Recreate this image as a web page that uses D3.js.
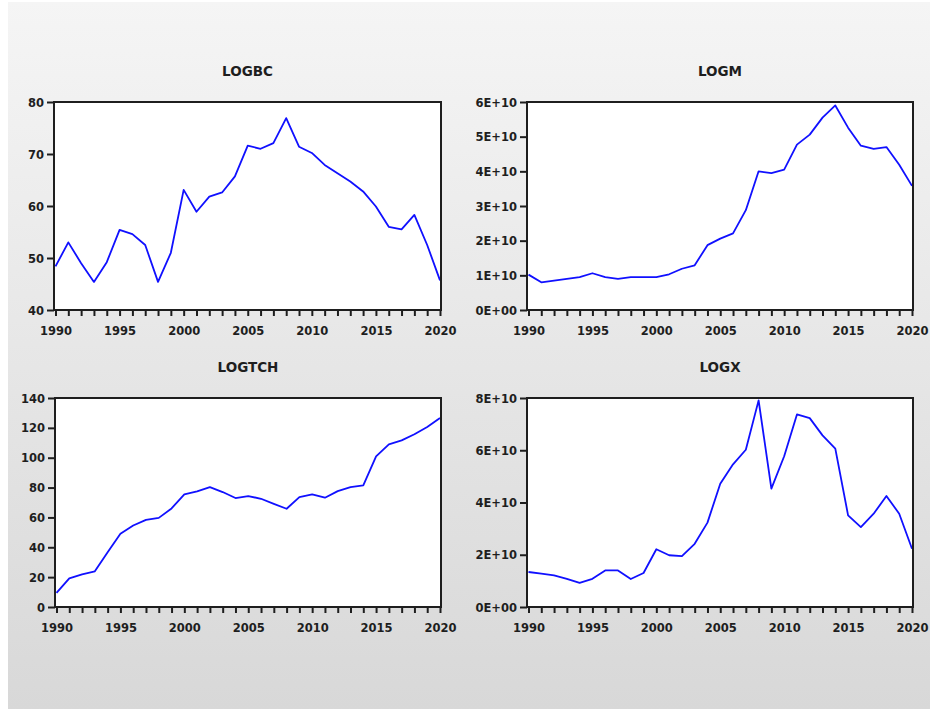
<!DOCTYPE html>
<html>
<head>
<meta charset="utf-8">
<script src="https://cdn.jsdelivr.net/npm/d3@7/dist/d3.min.js"></script>
<style>
  html, body { margin: 0; padding: 0; background: #ffffff; }
  svg { display: block; }
  .tick-label { font-family: "DejaVu Sans", sans-serif; font-weight: bold; font-size: 11.5px; fill: #1e1e1e; }
  .panel-title { font-family: "DejaVu Sans", sans-serif; font-weight: bold; font-size: 13.5px; fill: #1e1e1e; }
</style>
</head>
<body>
<script>
// Annual observations 1990-2020
const years = d3.range(1990, 2021);

const logbc = [48.4, 53.0, 49.0, 45.4, 49.2, 55.4, 54.6, 52.5, 45.4, 51.0,
               63.1, 58.9, 61.8, 62.6, 65.7, 71.6, 71.0, 72.1, 76.9, 71.4,
               70.2, 67.9, 66.3, 64.7, 62.8, 59.9, 56.0, 55.5, 58.3, 52.5, 45.7];

const logm = [1.02e10, 0.80e10, 0.85e10, 0.90e10, 0.95e10, 1.06e10, 0.95e10, 0.90e10, 0.95e10, 0.95e10,
              0.95e10, 1.03e10, 1.19e10, 1.29e10, 1.87e10, 2.06e10, 2.21e10, 2.88e10, 4.00e10, 3.95e10,
              4.05e10, 4.77e10, 5.06e10, 5.55e10, 5.90e10, 5.26e10, 4.74e10, 4.65e10, 4.70e10, 4.19e10, 3.58e10];

const logtch = [9.4, 19.2, 21.9, 23.9, 36.7, 49.0, 54.6, 58.4, 59.7, 66.0,
                75.4, 77.4, 80.3, 77.0, 73.0, 74.3, 72.5, 69.1, 65.8, 73.6,
                75.4, 73.2, 77.6, 80.3, 81.4, 100.9, 109.0, 111.6, 115.7, 120.6, 126.6];

const logx = [1.34e10, 1.28e10, 1.21e10, 1.08e10, 0.92e10, 1.08e10, 1.40e10, 1.40e10, 1.07e10, 1.30e10,
              2.21e10, 1.98e10, 1.95e10, 2.42e10, 3.23e10, 4.72e10, 5.46e10, 6.02e10, 7.91e10, 4.53e10,
              5.77e10, 7.37e10, 7.23e10, 6.57e10, 6.06e10, 3.51e10, 3.06e10, 3.57e10, 4.25e10, 3.57e10, 2.23e10];

// Axis ticks and their labels
const xTickLabels = [1990, 1995, 2000, 2005, 2010, 2015, 2020];
const bcTicks = [40, 50, 60, 70, 80];
const mTicks = [0, 1e10, 2e10, 3e10, 4e10, 5e10, 6e10];
const mTickLabels = ["0E+00", "1E+10", "2E+10", "3E+10", "4E+10", "5E+10", "6E+10"];
const tchTicks = [0, 20, 40, 60, 80, 100, 120, 140];
const xTicks = [0, 2e10, 4e10, 6e10, 8e10];
const xValTickLabels = ["0E+00", "2E+10", "4E+10", "6E+10", "8E+10"];

const W = 930, H = 709;
const svg = d3.select("body").append("svg").attr("width", W).attr("height", H);

// Window background with a soft vertical gradient
const defs = svg.append("defs");
const grad = defs.append("linearGradient").attr("id", "bg").attr("x1", 0).attr("y1", 0).attr("x2", 0).attr("y2", 1);
grad.append("stop").attr("offset", "0%").attr("stop-color", "#f5f5f5");
grad.append("stop").attr("offset", "100%").attr("stop-color", "#d8d8d8");
svg.append("rect").attr("x", 8).attr("y", 2).attr("width", W - 8).attr("height", H - 2).attr("fill", "url(#bg)");

const panels = [
  { title: "LOGBC",  values: logbc,  ticks: bcTicks,  labels: bcTicks.map(String),  domain: [40, 80],
    box: { left: 54, right: 441, top: 102, bottom: 310 } },
  { title: "LOGM",   values: logm,   ticks: mTicks,   labels: mTickLabels,          domain: [0, 6e10],
    box: { left: 527, right: 913, top: 102, bottom: 310 } },
  { title: "LOGTCH", values: logtch, ticks: tchTicks, labels: tchTicks.map(String), domain: [0, 140],
    box: { left: 55, right: 441, top: 398, bottom: 607 } },
  { title: "LOGX",   values: logx,   ticks: xTicks,   labels: xValTickLabels,       domain: [0, 8e10],
    box: { left: 527, right: 913, top: 398, bottom: 607 } }
];

panels.forEach(p => {
  const b = p.box;
  const g = svg.append("g");

  const x = d3.scaleLinear().domain([1990, 2020]).range([b.left + 1.5, b.right - 1]);
  const y = d3.scaleLinear().domain(p.domain).range([b.bottom, b.top]);

  // Plot area
  g.append("rect")
    .attr("x", b.left).attr("y", b.top)
    .attr("width", b.right - b.left).attr("height", b.bottom - b.top)
    .attr("fill", "#ffffff");

  // Title
  g.append("text").attr("class", "panel-title")
    .attr("x", (b.left + b.right) / 2).attr("y", b.top - 26)
    .attr("text-anchor", "middle")
    .text(p.title);

  // Bottom axis: a tick each year, labels every five years
  const xAxis = d3.axisBottom(x)
    .tickValues(years)
    .tickSize(6)
    .tickFormat(d => xTickLabels.includes(d) ? String(d) : "");
  const xg = g.append("g").attr("transform", `translate(0,${b.bottom})`).call(xAxis);
  xg.select(".domain").remove();
  xg.selectAll(".tick line").attr("stroke", "#1e1e1e").attr("stroke-width", 2);
  xg.selectAll(".tick text").attr("class", "tick-label").attr("dy", null).attr("y", 25);

  // Left axis
  const yAxis = d3.axisLeft(y)
    .tickValues(p.ticks)
    .tickSize(7)
    .tickFormat((d, i) => p.labels[i]);
  const yg = g.append("g").attr("transform", `translate(${b.left},0)`).call(yAxis);
  yg.select(".domain").remove();
  yg.selectAll(".tick line").attr("stroke", "#1e1e1e").attr("stroke-width", 2);
  yg.selectAll(".tick text").attr("class", "tick-label").attr("x", -10).attr("dy", "0.36em");

  // Series line
  const line = d3.line().x((d, i) => x(years[i])).y(d => y(d));
  g.append("path")
    .datum(p.values)
    .attr("d", line)
    .attr("fill", "none")
    .attr("stroke", "#1010ff")
    .attr("stroke-width", 1.8)
    .attr("stroke-linejoin", "round");

  // Frame
  g.append("rect")
    .attr("x", b.left).attr("y", b.top)
    .attr("width", b.right - b.left).attr("height", b.bottom - b.top)
    .attr("fill", "none")
    .attr("stroke", "#1e1e1e")
    .attr("stroke-width", 2);
});
</script>
</body>
</html>
